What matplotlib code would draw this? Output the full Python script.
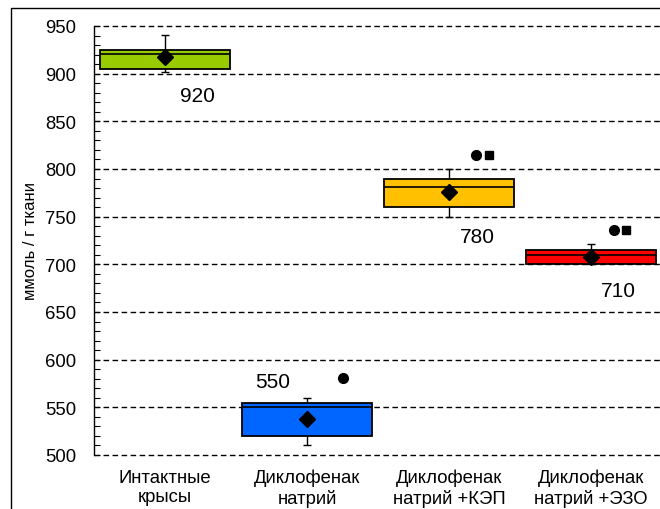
import matplotlib
matplotlib.use("Agg")
import matplotlib.pyplot as plt
from matplotlib.patches import Rectangle
from matplotlib.ticker import MultipleLocator

categories = ["Интактные\nкрысы", "Диклофенак\nнатрий", "Диклофенак\nнатрий +КЭП", "Диклофенак\nнатрий +ЭЗО"]
q1 = [905, 520, 760, 700]
q3 = [925, 555, 790, 715]
median = [921, 550, 781, 710]
whisk_lo = [902, 510, 750, 700]
whisk_hi = [941, 560, 800, 721]
means = [918, 538, 776, 708]
label_text = ["920", "550", "780", "710"]
label_y = [877, 577, 729, 673]
label_dx = [0.23, -0.24, 0.20, 0.19]
circle_y = [None, 581, 815, 736]
circle_dx = [None, 0.25, 0.19, 0.16]
square_y = [None, None, 815, 736]
square_dx = [None, None, 0.28, 0.25]
colors = ["#99CC00", "#0066FF", "#FFC000", "#FF0000"]
ylabel = "ммоль / г ткани"
yticks = [500, 550, 600, 650, 700, 750, 800, 850, 900, 950]

plt.rcParams['font.family'] = ['Liberation Sans', 'DejaVu Sans']

fig = plt.figure(figsize=(6.6, 5.1), dpi=100)
ax = fig.add_axes([94/660, 1-456/510, (662-94)/660, (456-27)/510])

# outer frame
fig.patches.append(Rectangle((11/660, -0.2), 2, 1.2 - 9/510, transform=fig.transFigure,
                             fill=False, edgecolor="black", linewidth=1.0))

ax.set_xlim(-0.5, 3.5)
ax.set_ylim(500, 950)

for v in yticks:
    ax.axhline(v, color="black", linestyle=(0, (4, 2.5)), linewidth=1.0, clip_on=False, zorder=1)

x = list(range(len(categories)))
bw = 0.91
for i in x:
    ax.vlines(i, whisk_lo[i], whisk_hi[i], color="black", linewidth=1.0, zorder=2)
    ax.hlines([whisk_lo[i], whisk_hi[i]], i - 0.03, i + 0.03, color="black", linewidth=1.0, zorder=2)
    ax.bar(i, q3[i] - q1[i], bottom=q1[i], width=bw, color=colors[i], edgecolor="black",
           linewidth=1.3, zorder=3)
    ax.hlines(median[i], i - bw/2, i + bw/2, color="black", linewidth=1.2, zorder=4)
    ax.plot(i, means[i], marker="D", color="black", markersize=8.5, zorder=5)
    ax.text(i + label_dx[i], label_y[i], label_text[i], ha="center", va="center", fontsize=15)
    if circle_y[i] is not None:
        ax.plot(i + circle_dx[i], circle_y[i], marker="o", color="black", markersize=7, zorder=5)
    if square_y[i] is not None:
        ax.plot(i + square_dx[i], square_y[i], marker="s", color="black", markersize=6.3, zorder=5)

for s in ["top", "right", "bottom"]:
    ax.spines[s].set_visible(False)
ax.spines["left"].set_linewidth(1.0)

ax.set_yticks(yticks)
ax.yaxis.set_minor_locator(MultipleLocator(10))
ax.tick_params(axis="y", which="both", direction="in", length=4, width=0.8, labelsize=13.3, pad=13)
ax.set_xticks(x)
ax.set_xticklabels(categories, fontsize=13.3)
ax.tick_params(axis="x", length=0, pad=10)
ax.set_ylabel(ylabel, fontsize=12, labelpad=5)

fig.savefig("out.png", dpi=100)
